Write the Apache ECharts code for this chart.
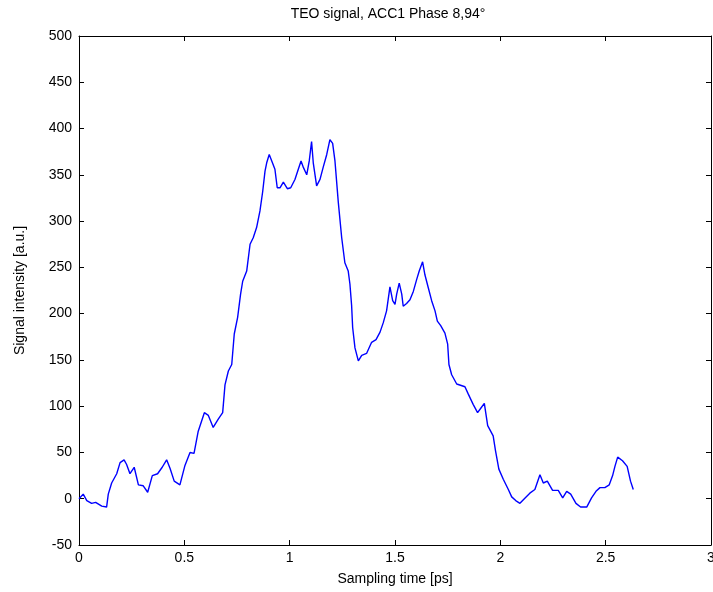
<!DOCTYPE html>
<html>
<head>
<meta charset="utf-8">
<script src="https://cdn.jsdelivr.net/npm/echarts@6/dist/echarts.min.js"></script>
<style>html,body{margin:0;padding:0;background:#fff}#c{width:713px;height:592px}</style>
</head>
<body>
<div id="c"></div>
<script>
const times = [0,0.02,0.037,0.06,0.079,0.108,0.131,0.139,0.155,0.179,0.195,0.214,0.226,0.242,0.262,0.282,0.305,0.326,0.348,0.373,0.395,0.416,0.432,0.452,0.479,0.503,0.527,0.546,0.566,0.595,0.614,0.637,0.661,0.682,0.693,0.709,0.725,0.737,0.753,0.767,0.777,0.796,0.812,0.827,0.843,0.859,0.872,0.883,0.891,0.903,0.915,0.930,0.941,0.954,0.970,0.989,1.005,1.025,1.041,1.054,1.065,1.081,1.093,1.104,1.112,1.128,1.144,1.159,1.176,1.191,1.204,1.215,1.231,1.247,1.262,1.278,1.286,1.294,1.299,1.31,1.326,1.342,1.365,1.389,1.41,1.429,1.444,1.460,1.476,1.489,1.5,1.508,1.520,1.532,1.539,1.555,1.571,1.587,1.603,1.615,1.631,1.642,1.658,1.674,1.690,1.701,1.717,1.737,1.750,1.756,1.769,1.793,1.832,1.848,1.871,1.892,1.908,1.924,1.940,1.966,1.977,1.993,2.014,2.038,2.054,2.073,2.093,2.114,2.140,2.164,2.188,2.204,2.223,2.248,2.275,2.296,2.315,2.334,2.359,2.381,2.41,2.433,2.454,2.473,2.496,2.517,2.533,2.544,2.557,2.580,2.602,2.618,2.631];
const signal = [0,5,-2,-5,-4,-8,-9,5,17,27,39,42,37,27,34,15,14,7,25,27,34,42,33,19,15,36,50,49,73,93,90,77,86,93,123,138,145,178,196,221,235,246,275,282,293,311,332,354,363,372,365,356,336,336,342,335,336,345,356,365,358,350,365,386,363,338,345,358,372,388,384,365,320,282,255,246,232,209,185,163,149,155,157,169,172,180,190,203,229,214,210,221,233,221,208,211,215,224,237,246,256,242,228,214,203,192,187,179,167,145,134,124,121,113,102,93,98,103,79,68,52,32,21,10,2,-2,-5,0,6,10,26,17,19,9,9,1,8,5,-5,-9,-9,1,8,12,12,15,25,35,45,41,35,19,10];
const xTicks = [0,0.5,1,1.5,2,2.5,3];
const yTicks = [-50,0,50,100,150,200,250,300,350,400,450,500];
const titleText = 'TEO signal, ACC1 Phase 8,94°';
const xName = 'Sampling time [ps]';
const yName = 'Signal intensity [a.u.]';

const pts = times.map((t,i)=>[t,signal[i]]);
const font = 'Liberation Sans, Arial, sans-serif';
const chart = echarts.init(document.getElementById('c'), null, {renderer:'canvas'});
const axLine = {show:true, onZero:false, lineStyle:{color:'#000', width:1}};
const tickIn = {show:true, inside:true, length:5, lineStyle:{color:'#000', width:1}};
chart.setOption({
  animation:false,
  backgroundColor:'#fff',
  title:{text:titleText, left:383, top:2, textAlign:'center',
    textStyle:{fontFamily:font, fontSize:14, fontWeight:'normal', color:'#000'}},
  grid:{left:79, right:2, top:36, bottom:47, containLabel:false, outerBoundsMode:'none'},
  xAxis:[
    {type:'value', min:0, max:3, interval:0.5, position:'bottom',
     axisLine:axLine, axisTick:tickIn, splitLine:{show:false},
     axisLabel:{color:'#000', fontFamily:font, fontSize:14, margin:6, showMaxLabel:true,
       formatter:v=>xTicks.includes(v)?String(v):''},
     name:xName, nameLocation:'middle', nameGap:27,
     nameTextStyle:{color:'#000', fontFamily:font, fontSize:14}},
    {type:'value', min:0, max:3, interval:0.5, position:'top',
     axisLine:axLine, axisTick:tickIn, axisLabel:{show:false}, splitLine:{show:false}}
  ],
  yAxis:[
    {type:'value', min:-50, max:500, interval:50, position:'left',
     axisLine:axLine, axisTick:tickIn, splitLine:{show:false},
     axisLabel:{color:'#000', fontFamily:font, fontSize:14, margin:7,
       formatter:v=>yTicks.includes(v)?String(v):''},
     name:yName, nameLocation:'middle', nameGap:52, nameRotate:90,
     nameTextStyle:{color:'#000', fontFamily:font, fontSize:14}},
    {type:'value', min:-50, max:500, interval:50, position:'right',
     axisLine:axLine, axisTick:tickIn, axisLabel:{show:false}, splitLine:{show:false}}
  ],
  series:[{type:'line', data:pts, xAxisIndex:0, yAxisIndex:0, showSymbol:false,
    lineStyle:{color:'#0000ff', width:1.4}, itemStyle:{color:'#0000ff'}}]
});
</script>
</body>
</html>
